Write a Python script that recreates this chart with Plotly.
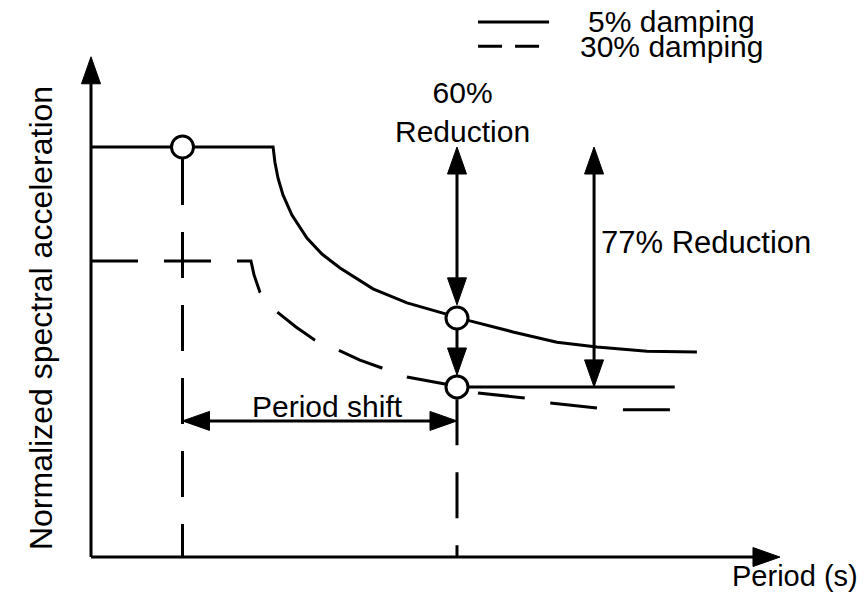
import numpy as np
import plotly.graph_objects as go

# spectrum curves (period in s, normalized spectral acceleration)
t_5 = [0.0, 0.995, 1.005, 1.022, 1.049, 1.098, 1.180, 1.262, 1.361, 1.541,
       1.727, 1.923, 2.0, 2.071, 2.306, 2.546, 2.765, 3.038, 3.311]
sa_5 = [1.0, 1.0, 0.963, 0.924, 0.883, 0.834, 0.778, 0.739, 0.705, 0.654,
        0.620, 0.595, 0.585, 0.576, 0.549, 0.524, 0.512, 0.502, 0.500]

t_30 = [0.0, 0.874, 0.891, 0.923, 0.967, 1.016, 1.120, 1.224, 1.350, 1.470,
        1.590, 1.727, 1.934, 2.115, 2.372, 2.508, 2.770, 2.907, 3.164]
sa_30 = [0.722, 0.722, 0.688, 0.646, 0.620, 0.598, 0.561, 0.529, 0.505, 0.480,
         0.461, 0.439, 0.422, 0.400, 0.388, 0.376, 0.363, 0.359, 0.359]

# marked points
pt_t = [0.5, 2.0, 2.0]
pt_sa = [1.0, 0.583, 0.415]

# reduced level line
level_t = [2.0, 3.19]
level_sa = [0.415, 0.415]

# dashed verticals down to the period axis
vert_t = [0.5, 2.0]
vert_top = [0.971, 0.385]

# arrows: start, end, heads
arr_x0 = [0.0, 0.0, 2.0, 2.0, 2.749, 0.5]
arr_y0 = [0.0, 0.0, 1.0, 0.583, 1.0, 0.332]
arr_x1 = [0.0, 3.765, 2.0, 2.0, 2.749, 2.0]
arr_y1 = [1.22, 0.0, 0.615, 0.444, 0.415, 0.332]
arr_both = [False, False, True, False, True, True]

labels = ['60%<br>Reduction', '77% Reduction', 'Period shift', 'Period (s)']
label_t = [2.03, 3.361, 1.290, 3.845]
label_sa = [1.085, 0.766, 0.368, -0.046]
label_size = [30, 31, 30, 29]

legend_names = ['5% damping', '30% damping']
legend_sa = [1.305, 1.246]

# page body has an 8px margin, so the figure covers pixels 8..868 / 8..596
W, H = 860, 588
X_RANGE = [-0.4536, 4.246]
Y_RANGE = [-0.095, 1.339]
SX = W / (X_RANGE[1] - X_RANGE[0])
SY = H / (Y_RANGE[1] - Y_RANGE[0])
HEAD_L, HEAD_W = 27, 19
LW = 3
FAMILY = 'Liberation Sans, Arial'


def head(x_tip, y_tip, x_from, y_from):
    # triangle in pixel space, back to data units
    d = np.array([(x_tip - x_from) * SX, (y_tip - y_from) * SY])
    d = d / np.linalg.norm(d)
    n = np.array([-d[1], d[0]])
    tip = np.array([x_tip * SX, y_tip * SY])
    base = tip - d * HEAD_L
    pts = [tip, base + n * HEAD_W / 2, base - n * HEAD_W / 2, tip]
    return [p[0] / SX for p in pts], [p[1] / SY for p in pts], base / [SX, SY]


fig = go.Figure()
line = dict(color='black', width=LW)

fig.add_trace(go.Scatter(x=t_5, y=sa_5, mode='lines', line=line))
fig.add_trace(go.Scatter(x=t_30, y=sa_30, mode='lines',
                         line=dict(color='black', width=LW, dash='47px,26px')))
fig.add_trace(go.Scatter(x=level_t, y=level_sa, mode='lines', line=line))
for t, top in zip(vert_t, vert_top):
    fig.add_trace(go.Scatter(x=[t, t], y=[top, 0], mode='lines',
                             line=dict(color='black', width=LW, dash='46px,27px')))

for x0, y0, x1, y1, both in zip(arr_x0, arr_y0, arr_x1, arr_y1, arr_both):
    hx, hy, b1 = head(x1, y1, x0, y0)
    sx, sy = x0, y0
    fig.add_trace(go.Scatter(x=hx, y=hy, mode='lines', fill='toself',
                             fillcolor='black', line=dict(color='black', width=1)))
    if both:
        hx2, hy2, b0 = head(x0, y0, x1, y1)
        fig.add_trace(go.Scatter(x=hx2, y=hy2, mode='lines', fill='toself',
                                 fillcolor='black', line=dict(color='black', width=1)))
        sx, sy = b0
    fig.add_trace(go.Scatter(x=[sx, b1[0]], y=[sy, b1[1]], mode='lines', line=line))

fig.add_trace(go.Scatter(x=pt_t, y=pt_sa, mode='markers',
                         marker=dict(size=22, color='white',
                                     line=dict(color='black', width=LW))))

# legend drawn by hand
fig.add_trace(go.Scatter(x=[2.115, 2.503], y=[legend_sa[0]] * 2, mode='lines', line=line))
fig.add_trace(go.Scatter(x=[2.115, 2.503], y=[legend_sa[1]] * 2, mode='lines',
                         line=dict(color='black', width=LW, dash='24px,13px')))
for name, sa in zip(legend_names, legend_sa):
    fig.add_annotation(x=3.17, y=sa, text=name, showarrow=False,
                       font=dict(family=FAMILY, size=30, color='black'))

for txt, t, sa, size in zip(labels, label_t, label_sa, label_size):
    fig.add_annotation(x=t, y=sa, text=txt, showarrow=False,
                       font=dict(family=FAMILY, size=size, color='black'))

fig.add_annotation(x=-0.273, y=0.583, text='Normalized spectral acceleration',
                   textangle=-90, showarrow=False,
                   font=dict(family=FAMILY, size=32, color='black'))

fig.update_layout(
    width=W, height=H,
    margin=dict(l=0, r=0, t=0, b=0),
    showlegend=False,
    plot_bgcolor='white', paper_bgcolor='white',
    xaxis=dict(range=X_RANGE, visible=False, fixedrange=True),
    yaxis=dict(range=Y_RANGE, visible=False, fixedrange=True),
)

fig.write_html("out.html")
